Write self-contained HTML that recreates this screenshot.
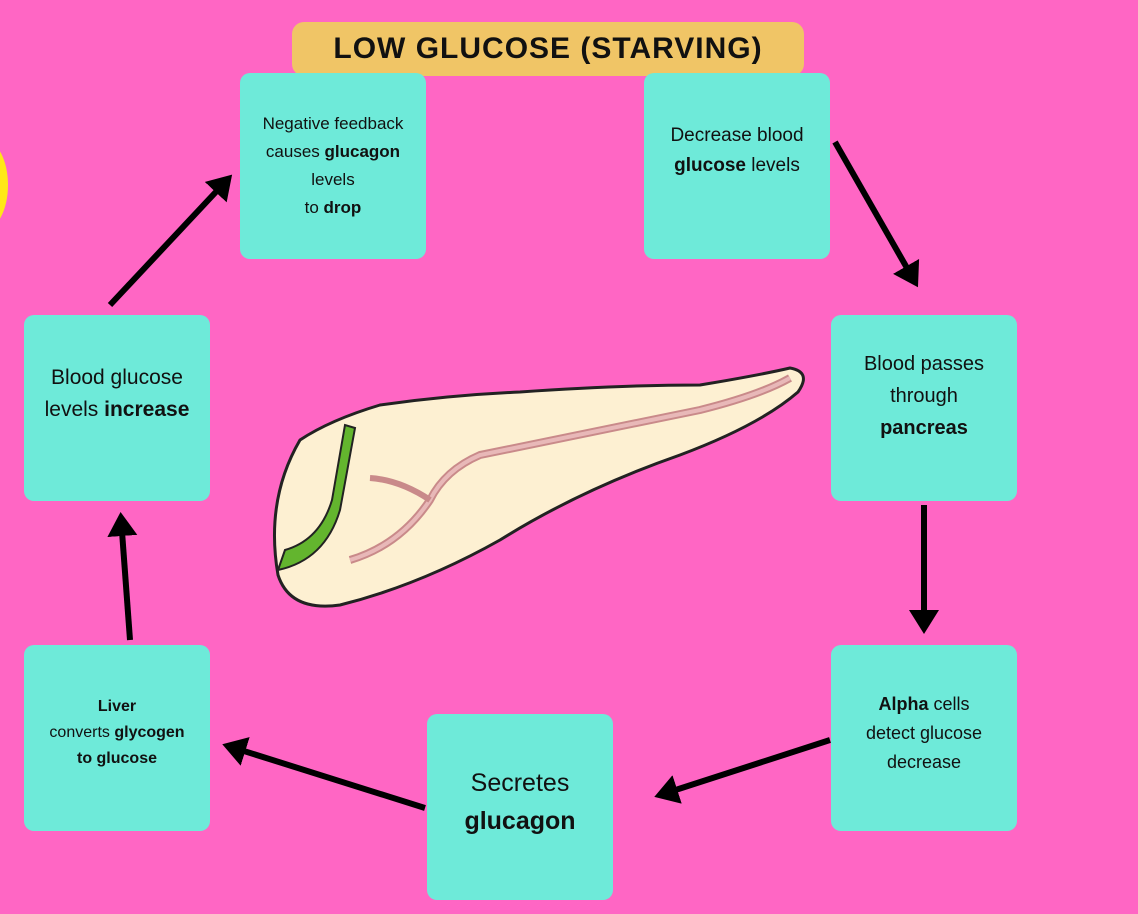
<!DOCTYPE html>
<html><head><style>
body{margin:0;width:1138px;height:914px;background:#ff66c4;position:relative;overflow:hidden;font-family:"Liberation Sans",sans-serif;}
.b{position:absolute;width:186px;height:186px;background:#6eead9;border-radius:10px;display:flex;align-items:center;justify-content:center;text-align:center;color:#111;box-sizing:border-box;}
.t{position:absolute;left:292px;top:22px;width:512px;height:54px;background:#f0c566;border-radius:12px;font-weight:bold;font-size:30px;letter-spacing:1px;display:flex;align-items:center;justify-content:center;color:#111;}
</style></head><body>
<div style="position:absolute;left:-40px;top:140px;width:48px;height:90px;border-radius:50%;background:#ffe817"></div>
<div class="t"><span>LOW GLUCOSE (STARVING)</span></div>
<div class="b" style="left:240px;top:73px;font-size:17px;line-height:28px;padding-bottom:0px"><span>Negative feedback<br>causes <b>glucagon</b><br>levels<br>to <b>drop</b></span></div>
<div class="b" style="left:644px;top:73px;font-size:19px;line-height:30px;align-items:flex-start;padding-top:48px"><span>Decrease blood<br><b>glucose</b> levels</span></div>
<div class="b" style="left:831px;top:315px;font-size:20px;line-height:32px;padding-bottom:24px"><span>Blood passes<br>through<br><b>pancreas</b></span></div>
<div class="b" style="left:831px;top:645px;font-size:18px;line-height:29px;padding-bottom:10px"><span><b>Alpha</b> cells<br>detect glucose<br>decrease</span></div>
<div class="b" style="left:427px;top:714px;font-size:25px;line-height:38px;padding-bottom:10px"><span>Secretes<br><b>glucagon</b></span></div>
<div class="b" style="left:24px;top:645px;font-size:16px;line-height:26px;padding-bottom:10px"><span><b>Liver</b><br>converts <b>glycogen</b><br><b>to glucose</b></span></div>
<div class="b" style="left:24px;top:315px;font-size:21px;line-height:32px;padding-bottom:28px"><span>Blood glucose<br>levels <b>increase</b></span></div>
<svg width="1138" height="914" style="position:absolute;left:0;top:0">
<defs><marker id="a" markerWidth="5" markerHeight="5" refX="3" refY="2.5" orient="auto"><path d="M0,0 L4,2.5 L0,5 Z" fill="#000"/></marker></defs>
<g stroke="#000" stroke-width="6" fill="none" marker-end="url(#a)">
<line x1="835" y1="142" x2="915" y2="282"/>
<line x1="924" y1="505" x2="924" y2="628"/>
<line x1="830" y1="740" x2="660" y2="795"/>
<line x1="425" y1="808" x2="228" y2="746"/>
<line x1="130" y1="640" x2="121" y2="518"/>
<line x1="110" y1="305" x2="228" y2="179"/>
</g>
<path d="M300,440 Q330,420 380,405 Q450,395 520,392 Q620,385 700,385 Q760,375 790,368 Q812,372 798,392 Q760,425 680,455 Q580,490 500,540 Q420,585 340,605 Q290,612 278,575 Q265,500 300,440 Z" fill="#fdf0d2" stroke="#222" stroke-width="3"/>
<path d="M345,425 L332,500 Q320,540 285,550 L278,570 Q325,560 340,510 L355,428 Z" fill="#63b52e" stroke="#222" stroke-width="2"/>
<path d="M350,560 Q400,545 430,500 Q445,470 480,455 Q600,430 700,410 Q760,395 790,378" stroke="#c98a8a" stroke-width="8" fill="none"/>
<path d="M350,560 Q400,545 430,500 Q445,470 480,455 Q600,430 700,410 Q760,395 790,378" stroke="#e8b8b8" stroke-width="4" fill="none"/>
<path d="M430,500 Q400,480 370,478" stroke="#c98a8a" stroke-width="6" fill="none"/>
</svg>
</body></html>
